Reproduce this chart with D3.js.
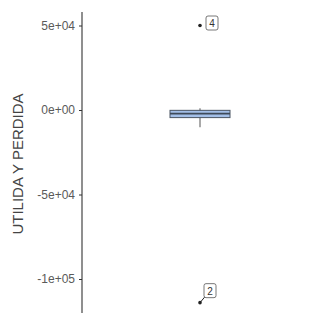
<!DOCTYPE html>
<html>
<head>
<meta charset="utf-8">
<script src="https://cdn.jsdelivr.net/npm/d3@7"></script>
<style>
body { margin: 0; background: #fff; }
svg { display: block; font-family: "Liberation Sans", Arial, sans-serif; }
</style>
</head>
<body>
<svg id="chart" width="314" height="313"></svg>
<script>
// box summary
var boxStats = [{ lower: -10200, q1: -4500, median: -2200, q3: -200, upper: 1000 }];
// outliers with their row labels
var outlierValues = [50000, -114000];
var outlierLabels = ["4", "2"];
var yTicks = [50000, 0, -50000, -100000];
var yTickLabels = ["5e+04", "0e+00", "-5e+04", "-1e+05"];

var svg = d3.select("#chart");

var y = d3.scaleLinear().domain([0, 50000]).range([110, 25.5]);
var cx = 200, halfW = 30;

// y axis
var yAxis = d3.axisLeft(y).tickValues(yTicks).tickSize(3).tickPadding(4)
	.tickFormat(function (d, i) { return yTickLabels[i]; });
var axisG = svg.append("g").attr("transform", "translate(82,0)").call(yAxis)
	.attr("font-family", "Liberation Sans, Arial, sans-serif");
axisG.select(".domain").remove();
axisG.append("line").attr("x1", 0).attr("x2", 0).attr("y1", 12).attr("y2", 313)
	.attr("stroke", "#333").attr("stroke-width", 1.1);
axisG.selectAll(".tick line").attr("stroke", "#333");
axisG.selectAll(".tick text").attr("fill", "#5a5a5a").style("font-size", "12px");

svg.append("text")
	.attr("transform", "translate(23,164) rotate(-90)")
	.attr("text-anchor", "middle")
	.attr("fill", "#444")
	.style("font-size", "15px")
	.text("UTILIDA Y PERDIDA");

// whiskers
var box = svg.selectAll("g.box").data(boxStats).enter().append("g").classed("box", true);
box.append("line")
	.attr("x1", cx).attr("x2", cx)
	.attr("y1", function (d) { return y(d.upper); })
	.attr("y2", function (d) { return y(d.lower); })
	.attr("stroke", "#555").attr("stroke-width", 1);
box.append("rect")
	.attr("x", cx - halfW).attr("width", halfW * 2)
	.attr("y", function (d) { return y(d.q3); })
	.attr("height", function (d) { return y(d.q1) - y(d.q3); })
	.attr("fill", "#a3bfe8").attr("stroke", "#4b5563").attr("stroke-width", 1);
box.append("line")
	.attr("x1", cx - halfW).attr("x2", cx + halfW)
	.attr("y1", function (d) { return y(d.median); })
	.attr("y2", function (d) { return y(d.median); })
	.attr("stroke", "#3e4a5a").attr("stroke-width", 1.8);

// outliers
svg.selectAll("circle.out").data(outlierValues).enter().append("circle")
	.attr("cx", cx).attr("cy", function (d) { return y(d); })
	.attr("r", 1.8).attr("fill", "#222");

// labels
var offsets = [{ dx: 12, dy: -2.5 }, { dx: 10, dy: -12 }];
outlierValues.forEach(function (v, i) {
	var lx = cx + offsets[i].dx, ly = y(v) + offsets[i].dy;
	if (i === 1) {
		svg.append("line").attr("x1", cx).attr("y1", y(v))
			.attr("x2", lx - 5).attr("y2", ly + 6)
			.attr("stroke", "#222").attr("stroke-width", 1);
	}
	svg.append("rect").attr("x", lx - 6).attr("y", ly - 7)
		.attr("width", 12).attr("height", 14).attr("rx", 2)
		.attr("fill", "#fff").attr("stroke", "#555").attr("stroke-width", 0.8);
	svg.append("text").attr("x", lx).attr("y", ly + 4)
		.attr("text-anchor", "middle").attr("fill", "#333")
		.style("font-size", "10px").text(outlierLabels[i]);
});
</script>
</body>
</html>
